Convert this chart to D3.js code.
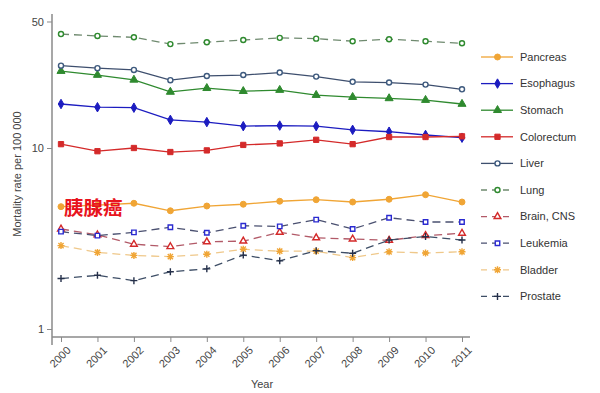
<!DOCTYPE html>
<html>
<head>
<meta charset="utf-8">
<script src="https://cdn.jsdelivr.net/npm/d3@7"></script>
<style>
  body { margin: 0; background: #fff; }
  svg { font-family: Arial, "Liberation Sans", sans-serif; }
</style>
</head>
<body>
<div id="plot"></div>
<script>
// mortality rates per 100 000, 2000-2011
const years = [2000, 2001, 2002, 2003, 2004, 2005, 2006, 2007, 2008, 2009, 2010, 2011];
const yTicks = [1, 10, 50];

const pancreas   = [4.74, 4.84, 4.95, 4.50, 4.78, 4.89, 5.08, 5.18, 5.03, 5.21, 5.52, 5.03];
const esophagus  = [17.5, 16.8, 16.7, 14.3, 13.9, 13.2, 13.3, 13.2, 12.6, 12.3, 11.8, 11.4];
const stomach    = [26.6, 25.3, 23.8, 20.4, 21.4, 20.6, 20.9, 19.6, 19.1, 18.8, 18.4, 17.5];
const colorectum = [10.5, 9.6, 10.0, 9.5, 9.7, 10.4, 10.6, 11.1, 10.5, 11.5, 11.5, 11.6];
const liver      = [28.5, 27.6, 27.0, 23.7, 25.0, 25.3, 26.1, 24.8, 23.2, 23.0, 22.4, 21.1];
const lung       = [42.6, 41.6, 40.9, 37.5, 38.4, 39.5, 40.6, 40.2, 38.9, 39.9, 38.9, 37.9];
const brain      = [3.57, 3.31, 2.94, 2.85, 3.03, 3.06, 3.42, 3.19, 3.14, 3.09, 3.28, 3.38];
const leukemia   = [3.45, 3.28, 3.42, 3.65, 3.40, 3.72, 3.69, 4.02, 3.57, 4.12, 3.90, 3.90];
const bladder    = [2.89, 2.65, 2.55, 2.51, 2.59, 2.76, 2.69, 2.69, 2.48, 2.67, 2.63, 2.67];
const prostate   = [1.90, 1.98, 1.85, 2.07, 2.15, 2.56, 2.38, 2.71, 2.62, 3.10, 3.24, 3.10];

const series = [
  { name: "Pancreas",   values: pancreas,   line: "#f0a535", mark: "#f0a535", sym: "circle",   fill: true,  dash: null },
  { name: "Esophagus",  values: esophagus,  line: "#1c1cc0", mark: "#1c1cc0", sym: "diamond",  fill: true,  dash: null },
  { name: "Stomach",    values: stomach,    line: "#2f8a2f", mark: "#2f8a2f", sym: "triangle", fill: true,  dash: null },
  { name: "Colorectum", values: colorectum, line: "#d42a2a", mark: "#d42a2a", sym: "square",   fill: true,  dash: null },
  { name: "Liver",      values: liver,      line: "#3e4f6e", mark: "#3e5a7e", sym: "circle",   fill: false, dash: null },
  { name: "Lung",       values: lung,       line: "#6f8a6f", mark: "#2f8a2f", sym: "circle",   fill: false, dash: "8,5" },
  { name: "Brain, CNS", values: brain,      line: "#b25a68", mark: "#d42a2a", sym: "triangle", fill: false, dash: "8,5" },
  { name: "Leukemia",   values: leukemia,   line: "#4a5070", mark: "#2a2ad0", sym: "square",   fill: false, dash: "8,5" },
  { name: "Bladder",    values: bladder,    line: "#efc88a", mark: "#f0a535", sym: "asterisk", fill: false, dash: "8,5" },
  { name: "Prostate",   values: prostate,   line: "#3e4e66", mark: "#25304a", sym: "plus",     fill: false, dash: "8,5" }
];

const margin = { top: 14, right: 138, bottom: 56, left: 52 },
      width = 600 - margin.left - margin.right,
      height = 393 - margin.top - margin.bottom;

const svg = d3.select("div#plot").append("svg")
    .attr("width", 600)
    .attr("height", 393)
  .append("g")
    .attr("transform", "translate(" + margin.left + "," + margin.top + ")");

const x = d3.scaleLinear()
    .domain([2000, 2011])
    .range([9, 410]);

const y = d3.scaleLog()
    .domain([1, 10])
    .range([315, 134]);

// axes
const yAxis = svg.append("g")
    .call(d3.axisLeft(y).tickValues(yTicks).tickFormat(d3.format("d")).tickSize(5).tickPadding(3));
yAxis.select(".domain").attr("d", "M0,0V" + (height + 8)).attr("stroke", "#8a8a8a").attr("stroke-width", 1.5);
yAxis.selectAll(".tick line").attr("stroke", "#8a8a8a");
yAxis.selectAll(".tick text").attr("fill", "#444").style("font-size", "11px");

const xAxis = svg.append("g")
    .attr("transform", "translate(0," + height + ")")
    .call(d3.axisBottom(x).tickValues(years).tickFormat(d3.format("d")).tickSize(5));
xAxis.select(".domain").attr("d", "M0,0H418").attr("stroke", "#8a8a8a").attr("stroke-width", 1.5);
xAxis.selectAll(".tick line").attr("stroke", "#8a8a8a");
xAxis.selectAll(".tick text")
    .attr("fill", "#444")
    .style("font-size", "11px")
    .attr("text-anchor", "end")
    .attr("dy", "0.3em")
    .attr("transform", "translate(2,6) rotate(-45)");

svg.append("text")
    .attr("x", 210)
    .attr("y", height + 51)
    .attr("text-anchor", "middle")
    .attr("fill", "#444")
    .style("font-size", "11px")
    .text("Year");

svg.append("text")
    .attr("transform", "rotate(-90)")
    .attr("x", -160)
    .attr("y", -31)
    .attr("text-anchor", "middle")
    .attr("fill", "#444")
    .style("font-size", "11px")
    .text("Mortality rate per 100 000");

function drawMarker(g, s, cx, cy) {
  if (s.sym === "plus" || s.sym === "asterisk") {
    const r = 3.5;
    let d = `M${cx - r},${cy}H${cx + r}M${cx},${cy - r}V${cy + r}`;
    if (s.sym === "asterisk") d += `M${cx - 2.6},${cy - 2.6}L${cx + 2.6},${cy + 2.6}M${cx - 2.6},${cy + 2.6}L${cx + 2.6},${cy - 2.6}`;
    g.append("path").attr("d", d).attr("stroke", s.mark).attr("stroke-width", 1.4).attr("fill", "none");
    return;
  }
  const type = { circle: d3.symbolCircle, diamond: d3.symbolDiamond, triangle: d3.symbolTriangle, square: d3.symbolSquare }[s.sym];
  const size = s.fill ? (s.sym === "diamond" ? 26 : 28) : 20;
  g.append("path")
    .attr("d", d3.symbol().type(type).size(size)())
    .attr("transform", `translate(${cx},${cy})`)
    .attr("fill", s.fill ? s.mark : "#fff")
    .attr("stroke", s.mark)
    .attr("stroke-width", s.fill ? 1 : 1.4);
}

const line = d3.line()
    .x((d, i) => x(years[i]))
    .y(d => y(d));

// draw dashed series first so solid series sit on top
const order = series.slice(5).concat(series.slice(0, 5));
order.forEach(s => {
  const g = svg.append("g");
  g.append("path")
    .attr("d", line(s.values))
    .attr("fill", "none")
    .attr("stroke", s.line)
    .attr("stroke-width", 1.3)
    .attr("stroke-dasharray", s.dash);
  s.values.forEach((v, i) => drawMarker(g, s, x(years[i]), y(v)));
});

// annotation
svg.append("text")
    .attr("x", 12)
    .attr("y", 201)
    .attr("fill", "#e8141e")
    .style("font-family", "'Noto Sans CJK SC', sans-serif")
    .style("font-weight", "bold")
    .style("font-size", "19.5px")
    .text("胰腺癌");

// legend
const legend = svg.append("g")
    .attr("transform", "translate(" + (481 - margin.left) + "," + (57 - margin.top) + ")");
series.forEach((s, i) => {
  const g = legend.append("g").attr("transform", `translate(0,${i * 26.6})`);
  g.append("line")
    .attr("x1", 0).attr("x2", 32)
    .attr("stroke", s.line)
    .attr("stroke-width", 1.3)
    .attr("stroke-dasharray", s.dash ? "6,5" : null);
  drawMarker(g, s, 16.5, 0);
  g.append("text")
    .attr("x", 39)
    .attr("dy", "0.35em")
    .attr("fill", "#333")
    .style("font-size", "11px")
    .text(s.name);
});
</script>
</body>
</html>
